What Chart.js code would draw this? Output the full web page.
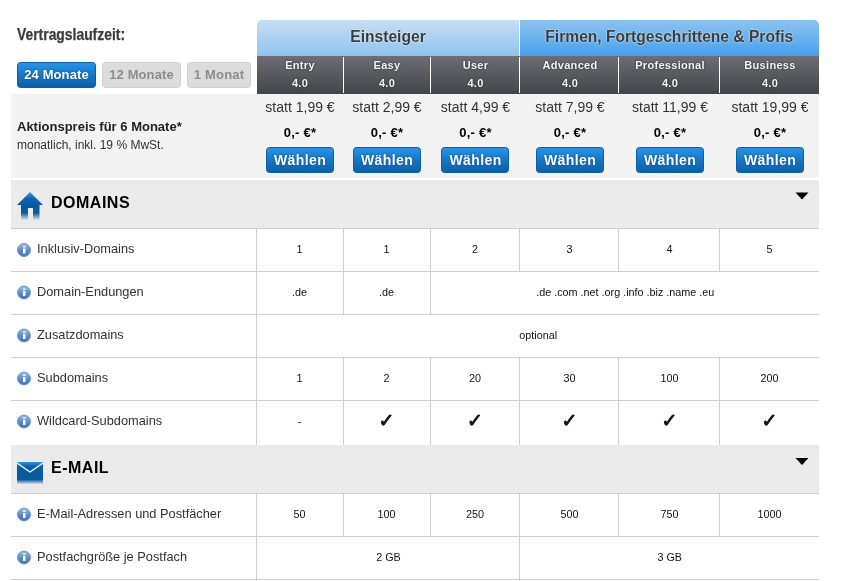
<!DOCTYPE html>
<html lang="de"><head><meta charset="utf-8">
<style>html,body{margin:0;padding:0;background:#fff;overflow:hidden}canvas{display:block}</style>
<script src="https://cdn.jsdelivr.net/npm/chart.js@4"></script>
</head><body><canvas id="c" width="843" height="581" style="width:843px;height:581px"></canvas>
<script>
// ---------- data ----------
const contractTitle = 'Vertragslaufzeit:';
const durations = ['24 Monate', '12 Monate', '1 Monat'];
const groups = ['Einsteiger', 'Firmen, Fortgeschrittene & Profis'];
const plans = ['Entry', 'Easy', 'User', 'Advanced', 'Professional', 'Business'];
const planVersion = '4.0';
const oldPrices = ['statt 1,99 €', 'statt 2,99 €', 'statt 4,99 €', 'statt 7,99 €', 'statt 11,99 €', 'statt 19,99 €'];
const promoPrice = '0,- €*';
const buttonLabel = 'Wählen';
const promoTitle = 'Aktionspreis für 6 Monate*';
const promoNote = 'monatlich, inkl. 19 % MwSt.';
const sectionNames = ['DOMAINS', 'E-MAIL'];
const domainLabels = ['Inklusiv-Domains', 'Domain-Endungen', 'Zusatzdomains', 'Subdomains', 'Wildcard-Subdomains'];
const inklusivDomains = ['1', '1', '2', '3', '4', '5'];
const domainEndungen = ['.de', '.de', '.de .com .net .org .info .biz .name .eu'];
const domainEndungenSpan = [1, 1, 4];
const zusatzdomains = ['optional'];
const zusatzdomainsSpan = [6];
const subdomains = ['1', '2', '20', '30', '100', '200'];
const wildcard = ['-', '✓', '✓', '✓', '✓', '✓'];
const mailLabels = ['E-Mail-Adressen und Postfächer', 'Postfachgröße je Postfach'];
const mailAdressen = ['50', '100', '250', '500', '750', '1000'];
const postfach = ['2 GB', '3 GB'];
const postfachSpan = [3, 3];

// ---------- layout (page units of the two linear scales) ----------
const colEdges = [256.5, 343.5, 430.5, 519.5, 618.5, 719.5, 819];
const colCentres = [300, 387, 475.5, 570, 670, 770];
const left = 11, right = 819;
const domainRowEdges = [229, 271.5, 314.5, 357.5, 400.5, 444.5];
const mailRowEdges = [493.5, 536.5, 579.5];
const mid = (a, b) => (a + b) / 2;

const texts = [], grid = [];
function T(text, x, y, style) { texts.push({ x, y, text, ...style }); }
function seg(x1, y1, x2, y2) { grid.push({ x: x1, y: y1 }, { x: x2, y: y2 }, { x: NaN, y: NaN }); }

const sLabel = { font: '12.8px "Liberation Sans"', color: '#333', align: 'left' };
const sCell = { font: '10.8px "Liberation Sans"', color: '#111', align: 'center' };
const sCheck = { font: 'bold 19px "DejaVu Sans"', color: '#111', align: 'center', thick: 0.9 };

T(contractTitle, 17, 36, { font: 'bold 16px "Liberation Sans"', color: '#3a3a3a', align: 'left', maxW: 108, thick: 0.25 });
T(durations[0], 56.5, 75, { font: 'bold 13px "Liberation Sans"', color: '#fff', align: 'center', shadow: '#0a4a80', ls: '0.1px' });
T(durations[1], 141.5, 75, { font: 'bold 13px "Liberation Sans"', color: '#8c8c8c', align: 'center', ls: '0.1px' });
T(durations[2], 219, 75, { font: 'bold 13px "Liberation Sans"', color: '#8c8c8c', align: 'center', ls: '0.2px' });
const sGroup = { font: 'bold 15.6px "Liberation Sans"', color: '#3c3c3c', align: 'center', shadow: '#fff' };
T(groups[0], mid(colEdges[0], colEdges[3]), 37.5, sGroup);
T(groups[1], mid(colEdges[3], colEdges[6]), 37.5, sGroup);
const sPlan = { font: 'bold 11px "Liberation Sans"', color: '#f4f4f4', align: 'center', ls: '0.3px', shadow: '#222' };
plans.forEach((p, i) => {
  const c = colCentres[i];
  T(p, c, 66, sPlan);
  T(planVersion, c, 83.5, sPlan);
  T(oldPrices[i], c, 108, { font: '14px "Liberation Sans"', color: '#333', align: 'center' });
  T(promoPrice, c, 133.5, { font: 'bold 13px "Liberation Sans"', color: '#000', align: 'center', ls: '0.2px' });
  T(buttonLabel, c, 161, { font: 'bold 14px "Liberation Sans"', color: '#fff', align: 'center', ls: '0.4px', shadow: '#0a4a80' });
});
T(promoTitle, 17, 127, { font: 'bold 13px "Liberation Sans"', color: '#222', align: 'left' });
T(promoNote, 17, 146, { font: '12px "Liberation Sans"', color: '#333', align: 'left' });
const sSection = { font: 'bold 16px "Liberation Sans"', color: '#000', align: 'left', ls: '0.5px' };
T(sectionNames[0], 51, 203.5, sSection);
T(sectionNames[1], 51, 469, sSection);

function row(values, spans, top, bottom, style) {
  let col = 0;
  values.forEach((v, i) => {
    const n = spans ? spans[i] : 1;
    const st = v === '✓' ? sCheck : style;
    T(v, n === 1 ? colCentres[col] - .5 : mid(colEdges[col], colEdges[col + n]) + .5, mid(top, bottom), st);
    col += n;
    if (col < 6) seg(colEdges[col], top, colEdges[col], bottom);
  });
  seg(colEdges[0], top, colEdges[0], bottom);
}
const domainRows = [[inklusivDomains, null], [domainEndungen, domainEndungenSpan], [zusatzdomains, zusatzdomainsSpan], [subdomains, null], [wildcard, null]];
domainRows.forEach((r, i) => {
  row(r[0], r[1], domainRowEdges[i], domainRowEdges[i + 1], sCell);
  T(domainLabels[i], 37, domainRowEdges[i] + 20.5, sLabel);
  if (i < 4) seg(left, domainRowEdges[i + 1], right, domainRowEdges[i + 1]);
});
seg(left, 228.5, right, 228.5);
const mailRows = [[mailAdressen, null], [postfach, postfachSpan]];
mailRows.forEach((r, i) => {
  row(r[0], r[1], mailRowEdges[i], mailRowEdges[i + 1], sCell);
  T(mailLabels[i], 37, mailRowEdges[i] + 20.5, sLabel);
  seg(left, mailRowEdges[i + 1], right, mailRowEdges[i + 1]);
});
seg(left, 493.5, right, 493.5);
seg(colEdges[0], 579.5, colEdges[0], 581);
seg(colEdges[3], 579.5, colEdges[3], 581);

// ---------- drawing helpers ----------
function rr(ctx, x, y, w, h, r) { ctx.beginPath(); ctx.roundRect(x, y, w, h, r); }
function vgrad(ctx, y1, y2, stops) {
  const g = ctx.createLinearGradient(0, y1, 0, y2);
  stops.forEach((c, i) => g.addColorStop(i / (stops.length - 1), c));
  return g;
}
function dotPattern(ctx) {
  const p = document.createElement('canvas'); p.width = p.height = 4;
  const q = p.getContext('2d');
  q.fillStyle = '#e9e9e9'; q.fillRect(0, 0, 4, 4);
  q.fillStyle = '#f2f2f2'; q.fillRect(0, 0, 1, 1); q.fillRect(2, 2, 1, 1);
  return ctx.createPattern(p, 'repeat');
}
function button(ctx, x, y, w, h, active) {
  rr(ctx, x + .5, y + .5, w - 1, h - 1, 3);
  ctx.fillStyle = active ? vgrad(ctx, y, y + h, ['#2a95ea', '#1577c6', '#0b5ea6']) : '#dcdcdc';
  ctx.fill();
  ctx.strokeStyle = active ? '#0c5f9f' : '#cfcfcf';
  ctx.stroke();
}
function infoIcon(ctx, x, y) {
  ctx.beginPath(); ctx.arc(x, y, 6.5, 0, 7);
  ctx.fillStyle = vgrad(ctx, y - 7, y + 7, ['#a8c4e2', '#5f8fc4', '#3d6fae']); ctx.fill();
  ctx.strokeStyle = '#7396c0'; ctx.lineWidth = 1; ctx.stroke();
  ctx.fillStyle = '#fff';
  ctx.fillRect(x - 1, y - 1.5, 2.5, 5); ctx.fillRect(x - 1, y - 4, 2.5, 1.5);
}
function house(ctx, x, y) {
  ctx.fillStyle = vgrad(ctx, y, y + 28, ['#2a97e6', '#0e62ae', '#0b5aa0', '#0b5aa0', '#dfe7ee']);
  ctx.beginPath();
  ctx.moveTo(x, y + 13); ctx.lineTo(x + 13, y); ctx.lineTo(x + 26, y + 13);
  ctx.lineTo(x + 22.5, y + 13); ctx.lineTo(x + 22.5, y + 28); ctx.lineTo(x + 16, y + 28);
  ctx.lineTo(x + 16, y + 16); ctx.lineTo(x + 11, y + 16); ctx.lineTo(x + 11, y + 28);
  ctx.lineTo(x + 4, y + 28); ctx.lineTo(x + 4, y + 13); ctx.closePath(); ctx.fill();
}
function envelope(ctx, x, y) {
  ctx.fillStyle = vgrad(ctx, y, y + 22, ['#2a97e6', '#0c60ac', '#0b5aa0', '#0b5aa0', '#0b5aa0', '#d5dfe8']);
  ctx.fillRect(x, y, 26, 22);
  ctx.strokeStyle = '#fff'; ctx.lineWidth = 1.3;
  ctx.beginPath(); ctx.moveTo(x, y + 1); ctx.lineTo(x + 13, y + 10); ctx.lineTo(x + 26, y + 1); ctx.stroke();
}
function triangle(ctx, x, y) {
  ctx.fillStyle = '#000';
  ctx.beginPath(); ctx.moveTo(x - 6.5, y); ctx.lineTo(x + 6.5, y); ctx.lineTo(x, y + 7); ctx.closePath(); ctx.fill();
}

const tablePlugin = {
  id: 'table',
  beforeDatasetsDraw(chart) {
    const ctx = chart.ctx, sx = chart.scales.x, sy = chart.scales.y;
    const X = v => sx.getPixelForValue(v), Y = v => sy.getPixelForValue(v);
    const box = (x1, y1, x2, y2) => ctx.fillRect(X(x1), Y(y1), X(x2) - X(x1), Y(y2) - Y(y1));
    ctx.save();
    // plan group header
    ctx.fillStyle = vgrad(ctx, Y(20), Y(56), ['#c6def3', '#8fc3ef']);
    rr(ctx, X(257), Y(20), X(519) - X(257), 36, [5, 0, 0, 0]); ctx.fill();
    ctx.fillStyle = vgrad(ctx, Y(20), Y(56), ['#8cc3f0', '#46a0ec']);
    rr(ctx, X(519), Y(20), X(right) - X(519), 36, [0, 5, 0, 0]); ctx.fill();
    ctx.fillStyle = '#fff'; box(519, 20, 520, 56);
    // plan names header
    ctx.fillStyle = vgrad(ctx, Y(56), Y(94), ['#6d6e74', '#434449']);
    box(257, 56, right, 94);
    ctx.fillStyle = '#fff';
    for (let i = 1; i < 6; i++) box(colEdges[i] - .5, 57, colEdges[i] + .5, 93);
    // price band and section bands
    ctx.fillStyle = '#f3f3f3'; box(left, 94, right, 178);
    ctx.fillStyle = '#ebebeb'; box(left, 180, right, 228); box(left, 445, right, 493);
    ctx.fillStyle = dotPattern(ctx);
    box(left, 180, right, 190); box(left, 215, right, 228); box(left, 445, right, 455); box(left, 480, right, 493);
    // buttons
    button(ctx, X(17), Y(62), 79, 26, true);
    button(ctx, X(102), Y(62), 79, 26, false);
    button(ctx, X(187), Y(62), 64, 26, false);
    colCentres.forEach(c => button(ctx, X(Math.floor(c) - 34), Y(147), 68, 26, true));
    // icons
    house(ctx, X(17), Y(192));
    envelope(ctx, X(17), Y(462));
    triangle(ctx, X(802), Y(192.5));
    triangle(ctx, X(802), Y(458));
    domainRowEdges.slice(0, 5).forEach(y => infoIcon(ctx, X(24), Y(y + 21)));
    mailRowEdges.slice(0, 2).forEach(y => infoIcon(ctx, X(24), Y(y + 21)));
    ctx.restore();
  },
  afterDatasetsDraw(chart) {
    const ctx = chart.ctx;
    const meta = chart.getDatasetMeta(1);
    ctx.save();
    ctx.textBaseline = 'middle';
    meta.data.forEach((el, i) => {
      const d = chart.data.datasets[1].data[i];
      ctx.font = d.font; ctx.fillStyle = d.color; ctx.textAlign = d.align;
      ctx.letterSpacing = d.ls || '0px';
      if (d.shadow) { ctx.shadowColor = d.shadow; ctx.shadowBlur = 2; } else { ctx.shadowColor = 'transparent'; ctx.shadowBlur = 0; }
      if (d.thick) { ctx.strokeStyle = d.color; ctx.lineWidth = d.thick; ctx.lineJoin = 'round';
        if (d.maxW) ctx.strokeText(d.text, el.x, el.y, d.maxW); else ctx.strokeText(d.text, el.x, el.y); }
      if (d.maxW) ctx.fillText(d.text, el.x, el.y, d.maxW); else ctx.fillText(d.text, el.x, el.y);
    });
    ctx.restore();
  }
};

new Chart(document.getElementById('c'), {
  type: 'scatter',
  data: { datasets: [
    { label: 'grid', data: grid, showLine: true, spanGaps: false, pointRadius: 0, borderColor: '#cfcfcf', borderWidth: 1 },
    { label: 'cells', data: texts, pointRadius: 0, showLine: false }
  ] },
  options: {
    responsive: false, animation: false, devicePixelRatio: 1, events: [],
    layout: { padding: 0 },
    plugins: { legend: { display: false }, tooltip: { enabled: false }, title: { display: false } },
    scales: {
      x: { type: 'linear', min: 0, max: 843, display: false },
      y: { type: 'linear', min: 0, max: 581, reverse: true, display: false }
    }
  },
  plugins: [tablePlugin]
});
</script></body></html>
